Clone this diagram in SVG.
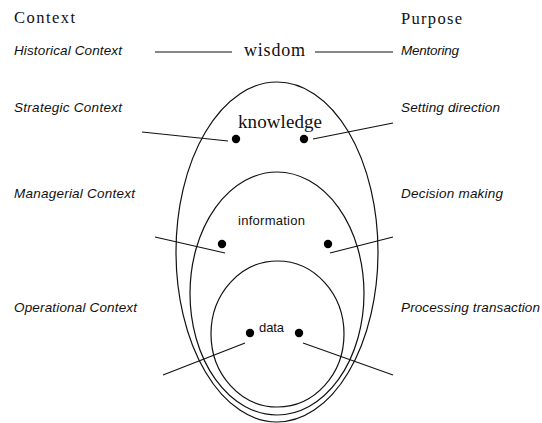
<svg xmlns="http://www.w3.org/2000/svg" width="542" height="423" viewBox="0 0 542 423">
<style>
  .hdr { font-family: "Liberation Serif", "Times New Roman", serif; font-size: 16.5px; fill: #111; }
  .lbl { font-family: "Liberation Sans", Arial, sans-serif; font-size: 13.5px; font-style: italic; fill: #111; }
  .ell { fill: none; stroke: #111; stroke-width: 1.2; }
  .ln { stroke: #111; stroke-width: 1.1; fill: none; }
  .dot { fill: #000; }
  .sans { font-family: "Liberation Sans", Arial, sans-serif; font-size: 13px; fill: #111; }
</style>
<rect width="542" height="423" fill="#fff"/>

<g id="headers">
  <text class="hdr" x="14" y="23" textLength="61">Context</text>
  <text class="hdr" x="401" y="24" textLength="61">Purpose</text>
</g>

<g id="labels">
  <text class="lbl" x="14" y="55" textLength="108">Historical Context</text>
  <text class="lbl" x="14" y="112" textLength="108">Strategic Context</text>
  <text class="lbl" x="14" y="198" textLength="121">Managerial Context</text>
  <text class="lbl" x="14" y="312" textLength="123">Operational Context</text>
  <text class="lbl" x="401" y="55" textLength="58">Mentoring</text>
  <text class="lbl" x="401" y="112" textLength="99">Setting direction</text>
  <text class="lbl" x="401" y="198" textLength="102">Decision making</text>
  <text class="lbl" x="401" y="312" textLength="139">Processing transaction</text>
</g>

<g id="wisdom">
  <text x="244" y="56" textLength="61" style="font-family:'Liberation Serif',serif;font-size:18px;fill:#111">wisdom</text>
</g>

<g id="knowledge">
  <ellipse class="ell" cx="277" cy="252" rx="101" ry="170"/>
  <text x="238" y="128" textLength="84" style="font-family:'Liberation Serif',serif;font-size:19px;fill:#111">knowledge</text>
  <circle class="dot" cx="236" cy="139" r="4.2"/>
  <circle class="dot" cx="304" cy="139" r="4.2"/>
</g>

<g id="information">
  <ellipse class="ell" cx="277" cy="293.5" rx="87" ry="121.5"/>
  <text class="sans" x="238" y="225" textLength="67">information</text>
  <circle class="dot" cx="222" cy="244" r="4.2"/>
  <circle class="dot" cx="328" cy="244" r="4.2"/>
</g>

<g id="data">
  <ellipse class="ell" cx="277.5" cy="334" rx="66.5" ry="73"/>
  <text class="sans" x="259" y="332" textLength="25">data</text>
  <circle class="dot" cx="250" cy="333" r="4.2"/>
  <circle class="dot" cx="299" cy="333" r="4.2"/>
</g>

<g id="connectors">
  <line class="ln" x1="155" y1="52" x2="232" y2="52"/>
  <line class="ln" x1="315" y1="52" x2="393" y2="52"/>
  <line class="ln" x1="142" y1="132" x2="228" y2="141"/>
  <line class="ln" x1="313" y1="139" x2="393" y2="123"/>
  <line class="ln" x1="155" y1="237" x2="225" y2="253"/>
  <line class="ln" x1="330" y1="253" x2="393" y2="237"/>
  <line class="ln" x1="163" y1="375" x2="245" y2="343"/>
  <line class="ln" x1="303" y1="343" x2="393" y2="375"/>
</g>
</svg>
